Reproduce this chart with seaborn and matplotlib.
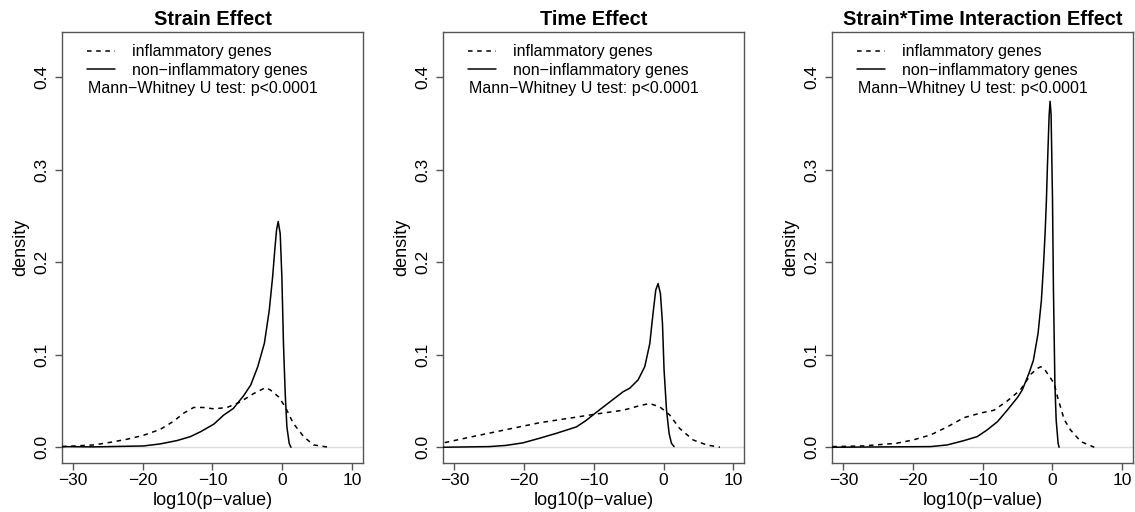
import matplotlib
matplotlib.use("Agg")
import matplotlib.pyplot as plt
import seaborn as sns

# Density curves: x = log10(p-value), y = density

# Strain Effect
strain_x_infl = [-31.6, -27.0, -24.6, -22.3, -19.9, -17.5, -15.6, -14.1, -12.7, -11.3, -9.8,
                 -7.9, -6.0, -4.1, -2.4, -1.7, -0.5, 0.44, 1.6, 3.1, 4.5, 6.7]
strain_y_infl = [0.0007, 0.0025, 0.0054, 0.0086, 0.0129, 0.0193, 0.028, 0.037, 0.043, 0.043, 0.0415,
                 0.043, 0.049, 0.058, 0.0644, 0.062, 0.0544, 0.0437, 0.0258, 0.0114, 0.0025, 0.0]
strain_x_non = [-31.6, -27.0, -19.9, -17.5, -15.1, -13.2, -11.7, -9.8, -8.4, -7.0, -5.5, -4.5,
                -3.5, -2.55, -1.85, -1.37, -1.06, -0.8, -0.57, -0.28, -0.04, 0.19, 0.44, 0.68,
                1.01, 1.26]
strain_y_non = [0.0007, 0.0004, 0.0014, 0.0036, 0.0072, 0.0114, 0.0168, 0.025, 0.0347, 0.042, 0.056, 0.0674,
                0.0871, 0.1124, 0.148, 0.184, 0.213, 0.235, 0.244, 0.231, 0.184, 0.112, 0.058, 0.022,
                0.0043, 0.0]

# Time Effect
time_x_infl = [-31.4, -27.4, -22.6, -17.8, -13.0, -9.6, -5.8, -3.4, -2.0, -0.54, 0.9, 2.3, 4.25, 6.2, 8.1]
time_y_infl = [0.005, 0.0115, 0.019, 0.0265, 0.032, 0.036, 0.040, 0.045, 0.0473, 0.0437, 0.0348,
               0.0204, 0.0079, 0.0025, 0.0]
time_x_non = [-31.6, -25.0, -22.6, -20.2, -17.8, -15.4, -12.5, -11.1, -9.6, -7.7, -5.8, -4.85, -3.65, -2.69,
              -1.97, -1.50, -1.11, -0.78, -0.44, -0.15, 0.08, 0.43, 0.80, 1.14, 1.52]
time_y_non = [0.0, 0.0007, 0.002, 0.0047, 0.0097, 0.015, 0.022, 0.029, 0.038, 0.049, 0.060, 0.0638, 0.0728,
              0.0871, 0.112, 0.145, 0.170, 0.177, 0.166, 0.134, 0.0836, 0.0403, 0.0151, 0.0043, 0.0007]

# Strain*Time Interaction Effect
inter_x_infl = [-31.6, -27.2, -22.4, -20.0, -17.5, -15.1, -12.7, -10.3, -8.4, -6.5, -4.6, -3.1, -2.2,
                -1.7, -1.2, 0.24, 0.72, 1.68, 2.6, 4.1, 6.0]
inter_y_infl = [0.0007, 0.0014, 0.0043, 0.0079, 0.0133, 0.022, 0.032, 0.037, 0.040, 0.050, 0.062, 0.079,
                0.085, 0.087, 0.085, 0.069, 0.0545, 0.030, 0.0186, 0.006, 0.0]
inter_x_non = [-31.6, -17.5, -15.1, -12.7, -10.8, -9.4, -7.9, -6.5, -5.0, -4.33, -3.37, -2.74, -2.07,
               -1.59, -1.30, -1.06, -0.87, -0.72, -0.48, -0.34, -0.2, 0.0, 0.14, 0.35, 0.53, 0.81, 0.95]
inter_y_non = [0.0, 0.0007, 0.0025, 0.0072, 0.0115, 0.0186, 0.0276, 0.040, 0.054, 0.062, 0.080, 0.094,
               0.123, 0.159, 0.195, 0.231, 0.267, 0.305, 0.359, 0.374, 0.36, 0.27, 0.17, 0.068, 0.0295,
               0.0043, 0.0]

titles = ["Strain Effect", "Time Effect", "Strain*Time Interaction Effect"]
series = [
    (strain_x_infl, strain_y_infl, strain_x_non, strain_y_non),
    (time_x_infl, time_y_infl, time_x_non, time_y_non),
    (inter_x_infl, inter_y_infl, inter_x_non, inter_y_non),
]
x_ticks = [-30, -20, -10, 0, 10]
y_ticks = [0.0, 0.1, 0.2, 0.3, 0.4]
y_tick_labels = ["0.0", "0.1", "0.2", "0.3", "0.4"]

sns.set_style("ticks")
plt.rcParams["font.family"] = ["Liberation Sans", "DejaVu Sans"]
plt.rcParams["axes.unicode_minus"] = True
plt.rcParams["text.color"] = "black"
plt.rcParams["axes.labelcolor"] = "black"
plt.rcParams["xtick.color"] = "black"
plt.rcParams["ytick.color"] = "black"

fig = plt.figure(figsize=(11.35, 5.12), dpi=100)
lefts = [0.0546, 0.3906, 0.7333]
frame_col = "#555555"

for left, title, (xi, yi, xn, yn) in zip(lefts, titles, series):
    ax = fig.add_axes([left, 0.0963, 0.2652, 0.8406])
    ax.axhline(0, color="#dddddd", lw=1.0, zorder=1)
    sns.lineplot(x=xi, y=yi, ax=ax, color="black", lw=1.1, linestyle=(0, (3, 3)),
                 sort=False, estimator=None, label="inflammatory genes", zorder=3)
    sns.lineplot(x=xn, y=yn, ax=ax, color="black", lw=1.1, linestyle="-",
                 sort=False, estimator=None, label="non\u2212inflammatory genes", zorder=3)
    ax.set_xlim(-31.6, 11.6)
    ax.set_ylim(-0.0167, 0.4486)
    ax.set_xticks(x_ticks)
    ax.set_yticks(y_ticks)
    ax.set_yticklabels(y_tick_labels, rotation=90, va="center")
    ax.tick_params(axis="both", length=5, width=1, color=frame_col, labelsize=12.5,
                   labelcolor="black")
    ax.tick_params(axis="x", pad=2.5)
    ax.tick_params(axis="y", pad=4)
    for sp in ax.spines.values():
        sp.set_color(frame_col)
        sp.set_linewidth(1.0)
    ax.set_xlabel("log10(p\u2212value)", fontsize=13, labelpad=3)
    ax.set_ylabel("density", fontsize=13, labelpad=4)
    ax.set_title(title, fontsize=14.4, fontweight="bold", pad=5, color="black")
    ax.legend(loc="upper left", bbox_to_anchor=(0.083, 0.9726), frameon=False,
              borderpad=0, borderaxespad=0, handlelength=1.75, handletextpad=1.05,
              labelspacing=0.23, fontsize=11.5)
    ax.text(0.085, 0.870, "Mann\u2212Whitney U test: p<0.0001", transform=ax.transAxes,
            fontsize=11.5, ha="left", va="center")

fig.savefig("out.png", dpi=100)
